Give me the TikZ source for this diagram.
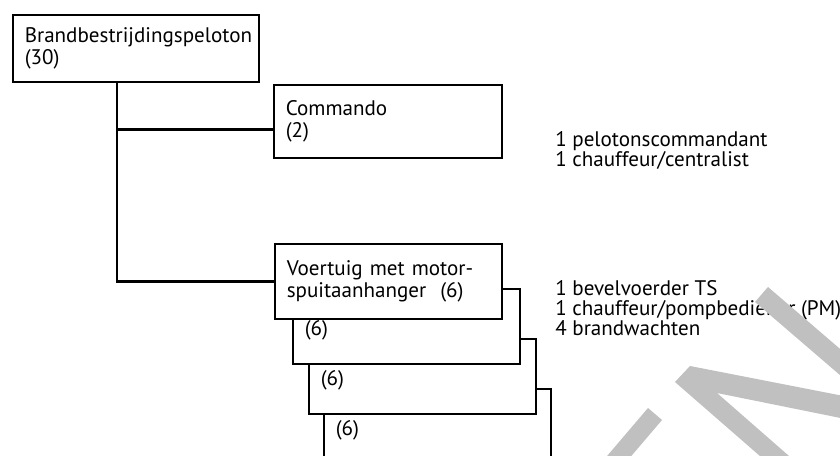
\documentclass[tikz,border=0pt]{standalone}
\usepackage{fontspec}
\setmainfont{PT Sans}
\usetikzlibrary{calc}
\definecolor{MarkGray}{RGB}{192,192,192}
\tikzset{
  unitbox/.style={draw, line width=1.2pt, fill=white, anchor=north west,
    inner xsep=9pt, inner ysep=0pt, align=left,
    font=\fontsize{15.8}{17}\selectfont},
  crewlist/.style={anchor=west, inner sep=0pt, align=left,
    font=\fontsize{15.8}{15}\selectfont},
  trunk/.style={line width=2pt}
}

\begin{document}
\begin{tikzpicture}[x=0.75pt,y=-0.75pt]
\useasboundingbox (0,0) rectangle (840,456);
\fill[white] (0,0) rectangle (840,456);

\node[unitbox, text width=166.5pt, minimum height=50.25pt] (peloton) at (12,14)
  {Brandbestrijdingspeloton\\(30)};
\node[unitbox, text width=153pt, minimum height=54.75pt] (cmd) at (273,84)
  {Commando\\(2)};

% vehicles, back to front
\foreach \i/\x/\y in {4/323/388, 3/308/338, 2/292/288}
  \node[unitbox, text width=152.25pt, minimum height=56.25pt] (vt\i) at (\x,\y)
    {\mbox{}\\(6)};
\node[unitbox, text width=152.25pt, minimum height=56.25pt] (vt1) at (274,243)
  {Voertuig met motor-\\spuitaanhanger\ \ (6)};

\draw[trunk] ($(peloton.south west)+(105,0)$) coordinate (fork) |- ($(cmd.west)+(0,8)$);
\draw[trunk] (fork) |- (vt1.west);

\node[crewlist] (crewcmd) at (555,150)
  {1 pelotonscommandant\\1 chauffeur/centralist};
\node[crewlist] (crewvt) at (555,308)
  {1 bevelvoerder TS\\1 chauffeur/pompbediener (PM)\\4 brandwachten};

% scanned watermark
\fill[MarkGray] (755,302) -- (768,287) -- (882,385) -- (869,400) -- cycle;
\fill[MarkGray] (675,382) -- (690,366) -- (900,407) -- (900,430) -- (717,393)
  -- (805,470) -- (776,470) -- cycle;
\fill[MarkGray] (648,408) -- (662,420) -- (610,481) -- (596,469) -- cycle;
\end{tikzpicture}
\end{document}
